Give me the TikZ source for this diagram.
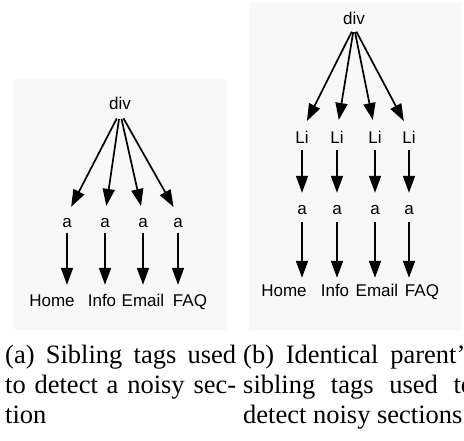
\documentclass[tikz,border=0pt]{standalone}
\usepackage{fontspec}
\setmainfont{Liberation Serif}
\newfontfamily\labelfont{Liberation Sans}
\usetikzlibrary{arrows.meta}
\definecolor{panelgray}{RGB}{248,248,248}

\begin{document}
\begin{tikzpicture}[x=1pt,y=-1pt,
  lbl/.style={font=\labelfont\fontsize{17}{17}\selectfont, inner sep=0pt,
              text height=12pt, text depth=3pt, anchor=base},
  arr/.style={line width=1.7pt, -{Triangle[length=17pt,width=12pt]}},
  panel/.style={fill=panelgray, draw=none},
  captext/.style={font=\fontsize{26.5}{30}\selectfont, inner sep=0pt, anchor=base west}
]
\useasboundingbox (0,0) rectangle (464,440);
\clip (0,0) rectangle (464,440);
\fill[white] (0,0) rectangle (464,440);

% ---------- panel (a): div -> a -> link text ----------
\fill[panel] (14,79) rectangle (227,330);
\node[lbl] (diva) at (120,109) {div};
\node[lbl] (aa1) at (67,227) {a};
\node[lbl] (aa2) at (105,227) {a};
\node[lbl] (aa3) at (143,227) {a};
\node[lbl] (aa4) at (178,227) {a};
\node[lbl] (ta1) at (52,306) {Home};
\node[lbl] (ta2) at (102,306) {Info};
\node[lbl] (ta3) at (143,306) {Email};
\node[lbl] (ta4) at (190,306) {FAQ};
\foreach \i in {1,...,4} {
  \draw[arr, shorten <=7pt, shorten >=9pt] (diva.south) -- (aa\i.north);
  \draw[arr, shorten <=3pt, shorten >=9pt] (aa\i.south) -- (aa\i.south |- ta\i.north);
}

% ---------- panel (b): div -> Li -> a -> link text ----------
\fill[panel] (249,3) rectangle (462,330);
\node[lbl] (divb) at (354,24) {div};
\node[lbl] (li1) at (302,143) {Li};
\node[lbl] (li2) at (337,143) {Li};
\node[lbl] (li3) at (375,143) {Li};
\node[lbl] (li4) at (409,143) {Li};
\node[lbl] (ab1) at (302,214) {a};
\node[lbl] (ab2) at (337,214) {a};
\node[lbl] (ab3) at (375,214) {a};
\node[lbl] (ab4) at (409,214) {a};
\node[lbl] (tb1) at (284,296) {Home};
\node[lbl] (tb2) at (335,296) {Info};
\node[lbl] (tb3) at (377,296) {Email};
\node[lbl] (tb4) at (422,296) {FAQ};
\foreach \i in {1,...,4} {
  \draw[arr, shorten <=5pt, shorten >=11pt] (divb.south) -- (li\i.north);
  \draw[arr, shorten <=4pt, shorten >=9pt] (li\i.south) -- (ab\i.north);
  \draw[arr, shorten <=5pt, shorten >=6pt] (ab\i.south) -- (ab\i.south |- tb\i.north);
}

% ---------- sub-captions ----------
\node[captext] (ca1) at (5,363) {\makebox[231pt][s]{(a) Sibling tags used}};
\node[captext] (ca2) at (5,393) {\makebox[231pt][s]{to detect a noisy sec-}};
\node[captext] (ca3) at (5,423) {tion};
\node[captext] (cb1) at (243,363) {\makebox[231pt][s]{(b) Identical parent's}};
\node[captext] (cb2) at (243,393) {\makebox[231pt][s]{sibling tags used to}};
\node[captext] (cb3) at (243,423) {detect noisy sections};
\end{tikzpicture}
\end{document}
